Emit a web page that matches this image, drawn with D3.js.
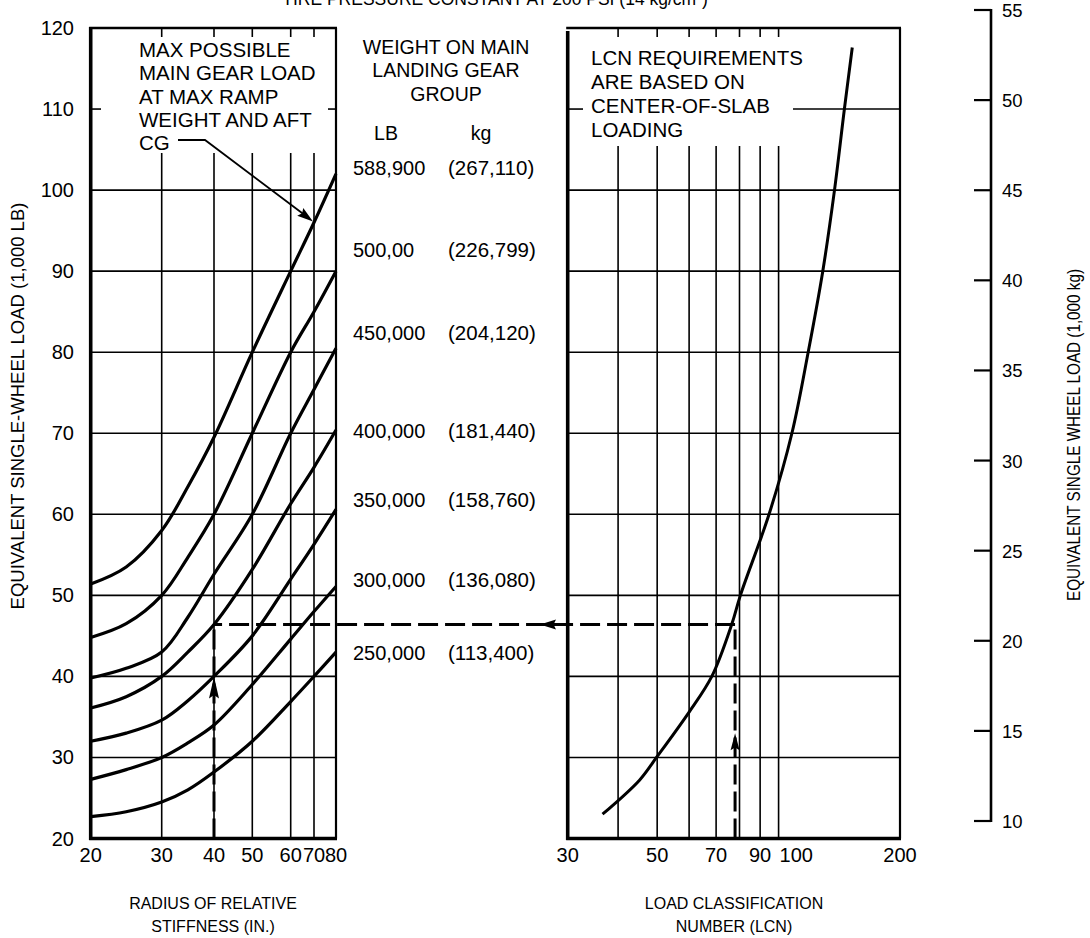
<!DOCTYPE html>
<html>
<head>
<meta charset="utf-8">
<script src="https://cdn.jsdelivr.net/npm/d3@7"></script>
<style>
  body { margin: 0; background: #fff; }
  svg { display: block; }
  text { font-family: "Liberation Sans", Arial, Helvetica, sans-serif; fill: #000; }
</style>
</head>
<body>
<svg id="chart" width="1090" height="938"></svg>
<script>
// ---- data ----------------------------------------------------------
const radiusTicks = [20, 30, 40, 50, 60, 70, 80];          // radius of relative stiffness (in.)
const eswlTicks = [20, 30, 40, 50, 60, 70, 80, 90, 100, 110, 120]; // 1,000 lb
const lcnTickLabels = [30, 50, 70, 90, 100, 200];
const lcnGrid = [40, 50, 60, 70, 80, 90, 100];
const kgTicks = [10, 15, 20, 25, 30, 35, 40, 45, 50, 55];    // 1,000 kg

const radius = [20, 25, 30, 35, 40, 50, 60, 70, 80];
const eswl588900 = [51.4, 53.5, 58.0, 63.4, 69.5, 80.0, 90.0, 96.0, 102.0];
const eswl500000 = [44.8, 46.5, 50.0, 54.7, 60.0, 70.0, 80.0, 85.0, 90.0];
const eswl450000 = [39.8, 41.0, 43.0, 47.3, 52.6, 60.0, 70.0, 75.4, 80.5];
const eswl400000 = [36.1, 37.5, 40.0, 43.0, 46.4, 53.2, 61.3, 65.8, 70.4];
const eswl350000 = [32.0, 33.0, 34.6, 37.0, 40.0, 45.0, 52.0, 56.3, 60.6];
const eswl300000 = [27.3, 28.5, 30.0, 31.8, 34.0, 39.0, 44.6, 48.0, 51.1];
const eswl250000 = [22.7, 23.3, 24.5, 26.0, 28.2, 32.0, 36.9, 40.0, 43.0];

const gearLb = ["588,900", "500,00", "450,000", "400,000", "350,000", "300,000", "250,000"];
const gearKg = ["(267,110)", "(226,799)", "(204,120)", "(181,440)", "(158,760)", "(136,080)", "(113,400)"];

const lcnCurveLcn  = [36.6, 45.2, 49.8, 60.0, 68.3, 76.5, 80.4, 94.7, 107.9, 118.4, 128.7, 137.6, 145.6, 152.3];
const lcnCurveEswl = [23.0, 27.2, 30.0, 35.6, 40.0, 46.4, 50.0, 60.0, 70.0, 80.0, 90.0, 100.0, 110.0, 117.6];

// worked example: 400,000 lb at radius 40 in. -> ESWL 46.4 -> LCN 78
const exampleRadius = 40;
const exampleEswl = 46.4;
const exampleLcn = 78;

// ---- layout --------------------------------------------------------
const svg = d3.select("#chart");
svg.append("rect").attr("width", 1090).attr("height", 938).attr("fill", "#fff");

const y = d3.scaleLinear().domain([20, 120]).range([838.5, 28]);
const xR = d3.scaleLinear().domain(radiusTicks).range([90.7, 161.7, 214, 252.3, 290.7, 314, 336]);
const xL = d3.scaleLog().domain([30, 200]).range([567.7, 900]);
const yKg = d3.scaleLinear().domain([10, 55]).range([821, 10]);

const PL = { x0: xR(20), x1: xR(80) };
const PR = { x0: xL(30), x1: xL(200) };
const yTop = y(120), yBot = y(20);

const g = svg.append("g");
function seg(x1, y1, x2, y2, w) {
  g.append("line").attr("x1", x1).attr("y1", y1).attr("x2", x2).attr("y2", y2)
    .attr("stroke", "#000").attr("stroke-width", w);
}
function label(x, yy, t, size, anchor) {
  return g.append("text").attr("x", x).attr("y", yy).attr("font-size", size)
    .attr("text-anchor", anchor || "start").text(t);
}

// horizontal grid
eswlTicks.filter(v => v > 20 && v < 120).forEach(v => {
  if (v === 110) {
    seg(PL.x0, y(v), 101, y(v), 1.6); seg(328, y(v), PL.x1, y(v), 1.6);
    seg(PR.x0, y(v), 583, y(v), 1.6); seg(793, y(v), PR.x1, y(v), 1.6);
  } else {
    seg(PL.x0, y(v), PL.x1, y(v), 1.6);
    seg(PR.x0, y(v), PR.x1, y(v), 1.6);
  }
});
// vertical grid (interrupted by the note boxes)
radiusTicks.slice(1, -1).forEach(v => {
  seg(xR(v), yTop, xR(v), yTop + 9, 1.6);
  seg(xR(v), 153, xR(v), yBot, 1.6);
});
lcnGrid.forEach(v => {
  seg(xL(v), yTop, xL(v), yTop + 9, 1.6);
  seg(xL(v), 146, xL(v), yBot, 1.6);
});

// frames
seg(PL.x0 - 1.5, yTop, PL.x1 + 1, yTop, 2.6);
seg(PL.x1, yTop, PL.x1, yBot, 2.2);
seg(PL.x0, yTop - 1, PL.x0, yBot + 1.5, 3.6);
seg(PL.x0 - 1.5, yBot, PL.x1 + 1, yBot, 3.6);
seg(PR.x0 - 1.5, yTop, PR.x1 + 1, yTop, 2.6);
seg(PR.x1, yTop, PR.x1, yBot, 2.2);
seg(PR.x0, yTop + 3, PR.x0, yBot + 1.5, 3.6);
seg(PR.x0 - 1.5, yBot, PR.x1 + 1, yBot, 3.6);

// weight curves
const series = [eswl588900, eswl500000, eswl450000, eswl400000, eswl350000, eswl300000, eswl250000];
const line = d3.line().x(d => xR(d[0])).y(d => y(d[1])).curve(d3.curveCatmullRom.alpha(0.5));
series.forEach(s => {
  g.append("path").attr("d", line(radius.map((r, i) => [r, s[i]])))
    .attr("fill", "none").attr("stroke", "#000").attr("stroke-width", 3.2);
});

// LCN curve
const lcnLine = d3.line().x(d => xL(d[0])).y(d => y(d[1])).curve(d3.curveCatmullRom.alpha(0.5));
g.append("path").attr("d", lcnLine(lcnCurveLcn.map((v, i) => [v, lcnCurveEswl[i]])))
  .attr("fill", "none").attr("stroke", "#000").attr("stroke-width", 3);

// example path
const dash = "20 7";
function dseg(x1, y1, x2, y2) {
  g.append("line").attr("x1", x1).attr("y1", y1).attr("x2", x2).attr("y2", y2)
    .attr("stroke", "#000").attr("stroke-width", 3).attr("stroke-dasharray", dash);
}
const ex = xR(exampleRadius), ey = y(exampleEswl), exL = xL(exampleLcn);
dseg(ex, yBot, ex, ey);
dseg(exL, ey, ex, ey);
dseg(exL, yBot, exL, ey);

function arrowHead(tx, ty, dx, dy, len, half) {
  const n = Math.hypot(dx, dy); const ux = dx / n, uy = dy / n;
  const bx = tx - ux * len, by = ty - uy * len;
  g.append("path")
    .attr("d", `M${tx},${ty}L${bx - uy * half},${by + ux * half}L${bx + ux * len * 0.15},${by + uy * len * 0.15}L${bx + uy * half},${by - ux * half}Z`)
    .attr("fill", "#000");
}
arrowHead(ex, y(40), 0, -1, 22, 5);
arrowHead(exL, y(33), 0, -1, 17, 4.5);
arrowHead(540, ey, -1, 0, 16, 5);

// left note with leader to the 588,900 lb curve
const note1 = ["MAX POSSIBLE", "MAIN GEAR LOAD", "AT MAX RAMP", "WEIGHT AND AFT", "CG"];
note1.forEach((t, i) => label(139, 57 + i * 23.3, t, 20.5));
const tip = [xR(70), y(eswl588900[7])];
g.append("path").attr("d", `M178,${140}H205L${tip[0] - 6},${tip[1] - 5}`)
  .attr("fill", "none").attr("stroke", "#000").attr("stroke-width", 1.8);
arrowHead(tip[0] - 1, tip[1] - 1, tip[0] - 205, tip[1] - 140, 16, 5);

// right note
const note2 = ["LCN REQUIREMENTS", "ARE BASED ON", "CENTER-OF-SLAB", "LOADING"];
note2.forEach((t, i) => label(591, 65 + i * 24, t, 20.5));

// middle header and weight labels
["WEIGHT ON MAIN", "LANDING GEAR", "GROUP"].forEach((t, i) => label(446, 54 + i * 23.3, t, 19.5, "middle"));
label(386, 140, "LB", 19.5, "middle");
label(481, 140, "kg", 19.5, "middle");
const labelRows = [102.7, 92.6, 82.4, 70.3, 61.8, 51.9, 42.9];
gearLb.forEach((t, i) => {
  label(353, y(labelRows[i]) + 7, t, 20);
  label(448, y(labelRows[i]) + 7, gearKg[i], 20.5);
});

// tick labels
eswlTicks.forEach(v => label(74, y(v) + 7, v, 20, "end"));
radiusTicks.forEach(v => label(xR(v), 862, v, 20, "middle"));
lcnTickLabels.forEach(v => label(v === 100 ? xL(v) + 1 : xL(v), 862, v, 20, v === 100 ? "start" : "middle"));

// kg axis
seg(991, yKg(55) - 1, 991, yKg(10) + 1, 2.6);
kgTicks.forEach(v => {
  seg(974, yKg(v), 991, yKg(v), 2.2);
  label(1002, yKg(v) + 7, v, 18.5);
});

// axis titles
g.append("text").attr("transform", "translate(24,406) rotate(-90)").attr("text-anchor", "middle")
  .attr("font-size", 18.5).text("EQUIVALENT SINGLE-WHEEL LOAD (1,000 LB)");
g.append("text").attr("transform", "translate(1080,435) rotate(-90)").attr("text-anchor", "middle")
  .attr("font-size", 18).attr("textLength", 332).attr("lengthAdjust", "spacingAndGlyphs")
  .text("EQUIVALENT SINGLE WHEEL LOAD (1,000 kg)");
["RADIUS OF RELATIVE", "STIFFNESS (IN.)"].forEach((t, i) => label(213, 909 + i * 23, t, 16, "middle"));
["LOAD CLASSIFICATION", "NUMBER (LCN)"].forEach((t, i) => label(734, 909 + i * 23, t, 16, "middle"));

// title, partly above the top edge
label(495, 5, "TIRE PRESSURE CONSTANT AT 200 PSI (14 kg/cm²)", 17.5, "middle");
</script>
</body>
</html>
